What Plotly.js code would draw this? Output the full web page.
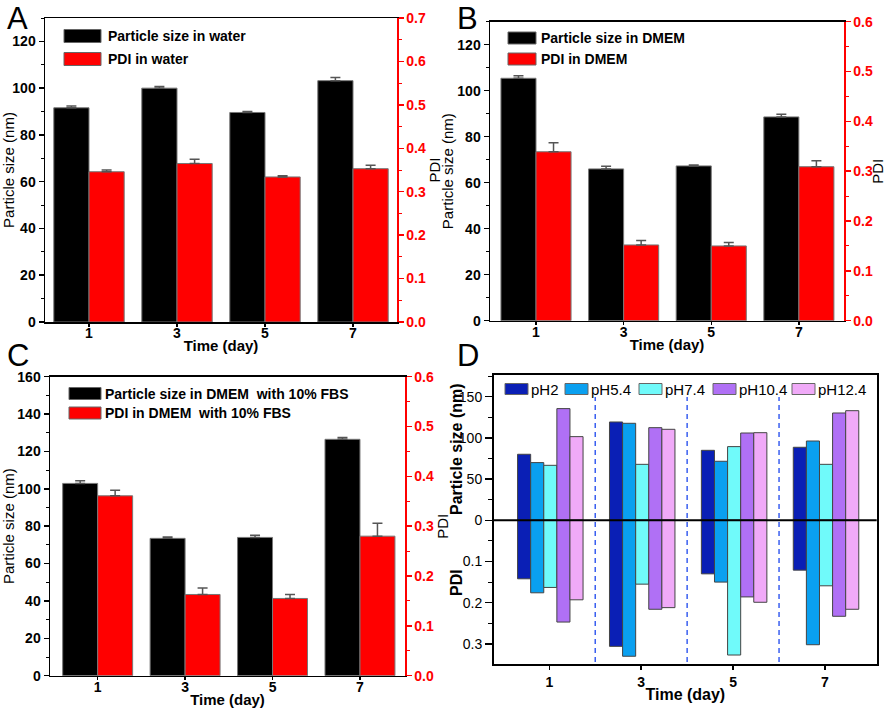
<!DOCTYPE html>
<html>
<head>
<meta charset="utf-8">
<script src="https://cdn.plot.ly/plotly-3.0.1.min.js"></script>
<style>html,body{margin:0;padding:0;background:#fff}#chart{width:886px;height:710px}</style>
</head>
<body>
<div id="chart"></div>
<script>
// ---------- data ----------
const days = [1, 3, 5, 7];
const dayLabels = ['1', '3', '5', '7'];

// Panel A (water)
const sizeWater = [91.6, 100.0, 89.6, 103.2];
const sizeWaterErr = [0.8, 0.7, 0.4, 1.4];
const pdiWater = [0.346, 0.365, 0.334, 0.353];
const pdiWaterErr = [0.004, 0.010, 0.003, 0.008];

// Panel B (DMEM)
const sizeDMEM = [105.4, 66.0, 67.3, 88.6];
const sizeDMEMErr = [1.1, 1.2, 0.4, 1.2];
const pdiDMEM = [0.339, 0.152, 0.150, 0.309];
const pdiDMEMErr = [0.018, 0.009, 0.007, 0.012];

// Panel C (DMEM + 10% FBS)
const sizeFBS = [102.9, 73.5, 74.0, 126.5];
const sizeFBSErr = [1.4, 0.7, 1.1, 0.9];
const pdiFBS = [0.361, 0.163, 0.155, 0.280];
const pdiFBSErr = [0.011, 0.013, 0.008, 0.026];

// Panel D (pH)
const phLabels = ['pH2', 'pH5.4', 'pH7.4', 'pH10.4', 'pH12.4'];
const sizePH2 = [80.1, 119.3, 84.9, 88.6];
const sizePH54 = [70.0, 117.7, 71.6, 96.2];
const sizePH74 = [66.7, 67.9, 89.4, 67.9];
const sizePH104 = [135.5, 112.4, 105.9, 130.2];
const sizePH124 = [101.5, 110.4, 106.3, 133.0];
const pdiPH2 = [0.142, 0.306, 0.130, 0.121];
const pdiPH54 = [0.176, 0.330, 0.150, 0.302];
const pdiPH74 = [0.163, 0.155, 0.327, 0.159];
const pdiPH104 = [0.247, 0.216, 0.186, 0.233];
const pdiPH124 = [0.193, 0.212, 0.199, 0.216];
const sizeTicksD = [0, 50, 100, 150];
const pdiTicksD = [0.1, 0.2, 0.3];
const separatorsD = [2, 4, 6];

// ---------- styling ----------
const FONT = 'Liberation Sans, Arial, sans-serif';
const RED = '#ff0000';
const W = 886, H = 710;
const px = v => v / W;
const py = v => 1 - v / H;
const pdiScaleD = 500; // 0.1 PDI drawn as 50 nm-units below zero

function errBars(arr) {
  return {type: 'data', array: arr, arrayminus: arr.map(() => 0), symmetric: false,
          color: '#555', thickness: 1.5, width: 5};
}
function xAxis(domain, range, anchor) {
  return {domain, range, anchor, tickmode: 'array', tickvals: days, ticktext: dayLabels,
    ticks: 'outside', ticklen: 3, tickwidth: 1.5, tickcolor: '#000', ticklabelstandoff: -5,
    showline: true, linecolor: '#000', linewidth: 1.5, mirror: true,
    showgrid: false, zeroline: false,
    tickfont: {family: FONT, size: 14, color: '#000', weight: 'bold'},
    title: {text: 'Time (day)', font: {family: FONT, size: 15, color: '#000', weight: 'bold'}, standoff: 0}};
}
function leftAxis(domain, range, dtick, anchor) {
  return {domain, range, anchor, tickmode: 'linear', tick0: 0, dtick,
    ticks: 'outside', ticklen: 5, tickwidth: 1.5, tickcolor: '#000',
    minor: {ticks: 'outside', dtick: dtick / 2, ticklen: 3, tickwidth: 1, tickcolor: '#000'},
    showline: true, linecolor: '#000', linewidth: 1.5, showgrid: false, zeroline: false,
    tickfont: {family: FONT, size: 14, color: '#000', weight: 'bold'},
    title: {text: 'Particle size (nm)', font: {family: FONT, size: 15, color: '#000'}, standoff: 0}};
}
function rightAxis(range, overlay, anchor) {
  return {range, overlaying: overlay, anchor, side: 'right', tickmode: 'linear', tick0: 0, dtick: 0.1,
    tickformat: '.1f',
    ticks: 'outside', ticklen: 5, tickwidth: 1.5, tickcolor: RED,
    minor: {ticks: 'outside', dtick: 0.05, ticklen: 3, tickwidth: 1, tickcolor: RED},
    showline: true, linecolor: RED, linewidth: 1.5, showgrid: false, zeroline: false,
    tickfont: {family: FONT, size: 14, color: RED, weight: 'bold'},
    title: {text: 'PDI', font: {family: FONT, size: 15, color: '#000'}, standoff: 4}};
}
function pairTraces(sizes, sizeErr, pdis, pdiErr, sizeName, pdiName, xa, ya, ya2) {
  return [
    {type: 'bar', x: days, y: sizes, xaxis: xa, yaxis: ya, name: sizeName, showlegend: false,
     offset: -0.8, width: 0.8, marker: {color: '#000', line: {color: '#777', width: 1}},
     error_y: errBars(sizeErr)},
    {type: 'bar', x: days, y: pdis, xaxis: xa, yaxis: ya2, name: pdiName, showlegend: false,
     offset: 0, width: 0.8, marker: {color: RED, line: {color: '#777', width: 1}},
     error_y: errBars(pdiErr)}
  ];
}

const legendA = ['Particle size in water', 'PDI in water'];
const legendB = ['Particle size in DMEM', 'PDI in DMEM'];
const legendC = ['Particle size in DMEM  with 10% FBS', 'PDI in DMEM  with 10% FBS'];

const traces = [
  ...pairTraces(sizeWater, sizeWaterErr, pdiWater, pdiWaterErr, legendA[0], legendA[1], 'x', 'y', 'y2'),
  ...pairTraces(sizeDMEM, sizeDMEMErr, pdiDMEM, pdiDMEMErr, legendB[0], legendB[1], 'x2', 'y3', 'y4'),
  ...pairTraces(sizeFBS, sizeFBSErr, pdiFBS, pdiFBSErr, legendC[0], legendC[1], 'x3', 'y5', 'y6')
];

// Panel D traces
const phSizes = [sizePH2, sizePH54, sizePH74, sizePH104, sizePH124];
const phPdis = [pdiPH2, pdiPH54, pdiPH74, pdiPH104, pdiPH124];
const phColors = ['#0a1fb5', '#0aa0f0', '#70fafa', '#b070f5', '#f0aaf8'];
const barW = 0.285, groupStart = -0.69;
phLabels.forEach((lab, i) => {
  const common = {type: 'bar', x: days, xaxis: 'x4', yaxis: 'y7', showlegend: false,
    offset: groupStart + i * barW, width: barW,
    marker: {color: phColors[i], line: {color: '#444', width: 1}}};
  traces.push(Object.assign({}, common, {name: lab + ' size', y: phSizes[i]}));
  traces.push(Object.assign({}, common, {name: lab + ' PDI', y: phPdis[i].map(v => -v * pdiScaleD)}));
});

// D axis ticks
const dTickVals = sizeTicksD.concat(pdiTicksD.map(p => -p * pdiScaleD));
const dTickText = sizeTicksD.map(String).concat(pdiTicksD.map(p => p.toFixed(1)));

const xD = xAxis([px(494), px(876.7)], [-0.203, 8.125], 'y7');
Object.assign(xD, {linewidth: 2, ticklen: 4, ticklabelstandoff: 0,
  title: {text: 'Time (day)', font: {family: FONT, size: 16, color: '#000', weight: 'bold'}, standoff: 0}});

const layout = {
  width: W, height: H, margin: {l: 0, r: 0, t: 0, b: 0},
  paper_bgcolor: '#fff', plot_bgcolor: '#fff', barmode: 'overlay', showlegend: false,
  font: {family: FONT, color: '#000'},
  xaxis: xAxis([px(45), px(397)], [0, 8], 'y'),
  yaxis: leftAxis([py(322), py(18)], [0, 130], 20, 'x'),
  yaxis2: rightAxis([0, 0.7], 'y', 'x'),
  xaxis2: xAxis([px(490), px(844)], [-0.05, 8.03], 'y3'),
  yaxis3: leftAxis([py(320.7), py(21.7)], [0, 130], 20, 'x2'),
  yaxis4: rightAxis([0, 0.6], 'y3', 'x2'),
  xaxis3: xAxis([px(50), px(405)], [-0.09, 8.03], 'y5'),
  yaxis5: leftAxis([py(675.7), py(376.7)], [0, 160], 20, 'x3'),
  yaxis6: rightAxis([0, 0.6], 'y5', 'x3'),
  xaxis4: xD,
  yaxis7: {domain: [py(664), py(375)], range: [-174.4, 176.3], anchor: 'x4',
    tickmode: 'array', tickvals: dTickVals, ticktext: dTickText,
    ticks: 'outside', ticklen: 7, tickwidth: 1.5, tickcolor: '#000',
    minor: {ticks: 'outside', tickmode: 'linear', tick0: 0, dtick: 25, ticklen: 4, tickwidth: 1, tickcolor: '#000'},
    showline: true, linecolor: '#000', linewidth: 2, mirror: true, showgrid: false, zeroline: false,
    tickfont: {family: FONT, size: 14, color: '#000'}},
  shapes: [],
  annotations: []
};

// manual legends (wide swatches as in the reference)
function addLegend(labels, colors, swX, swW, rows, swH, textX, fontSize, bold) {
  labels.forEach((lab, i) => {
    layout.shapes.push({type: 'rect', xref: 'paper', yref: 'paper',
      x0: px(swX[i]), x1: px(swX[i] + swW), y0: py(rows[i] + swH / 2), y1: py(rows[i] - swH / 2),
      fillcolor: colors[i], line: {color: '#666', width: 1}});
    layout.annotations.push({text: lab, xref: 'paper', yref: 'paper', x: px(textX[i]), y: py(rows[i]),
      xanchor: 'left', yanchor: 'middle', showarrow: false,
      font: {family: FONT, size: fontSize, color: '#000', weight: bold ? 'bold' : 'normal'}});
  });
}
addLegend(legendA, ['#000', RED], [64, 64], 37, [36, 59], 13, [106, 106], 14, true);
addLegend(legendB, ['#000', RED], [508, 508], 28, [38, 59], 12, [539, 539], 14, true);
addLegend(legendC, ['#000', RED], [69, 69], 32, [393.5, 413], 12, [103, 103], 14, true);
const legSwatchX = [505, 565, 639, 713, 792];
addLegend(phLabels, phColors, legSwatchX, 23, [389, 389, 389, 389, 389], 11,
  legSwatchX.map(x => x + 24), 15, false);

// separators and zero line in D
separatorsD.forEach(s => layout.shapes.push({type: 'line', xref: 'x4', yref: 'paper',
  x0: s, x1: s, y0: py(662), y1: py(397), line: {color: '#3a5ff0', width: 1.5, dash: '5px,4px'}}));
layout.shapes.push({type: 'line', xref: 'x4 domain', yref: 'y7', x0: 0, x1: 1, y0: 0, y1: 0,
  line: {color: '#000', width: 2}});

// D y titles
layout.annotations.push({text: 'Particle size (nm)', xref: 'paper', yref: 'paper', x: px(456), y: py(449),
  xanchor: 'center', yanchor: 'middle', textangle: -90, showarrow: false,
  font: {family: FONT, size: 16, color: '#000', weight: 'bold'}});
layout.annotations.push({text: 'PDI', xref: 'paper', yref: 'paper', x: px(456), y: py(583),
  xanchor: 'center', yanchor: 'middle', textangle: -90, showarrow: false,
  font: {family: FONT, size: 16, color: '#000', weight: 'bold'}});

// panel letters
[['A', 17, 0], ['B', 467, 0], ['C', 18, 337], ['D', 468, 337]].forEach(([t, x, y]) =>
  layout.annotations.push({text: t, xref: 'paper', yref: 'paper', x: px(x), y: py(y),
    xanchor: 'center', yanchor: 'top', showarrow: false, borderpad: 0,
    font: {family: FONT, size: 31, color: '#000'}}));

Plotly.newPlot('chart', traces, layout, {staticPlot: true, displayModeBar: false});
</script>
</body>
</html>
